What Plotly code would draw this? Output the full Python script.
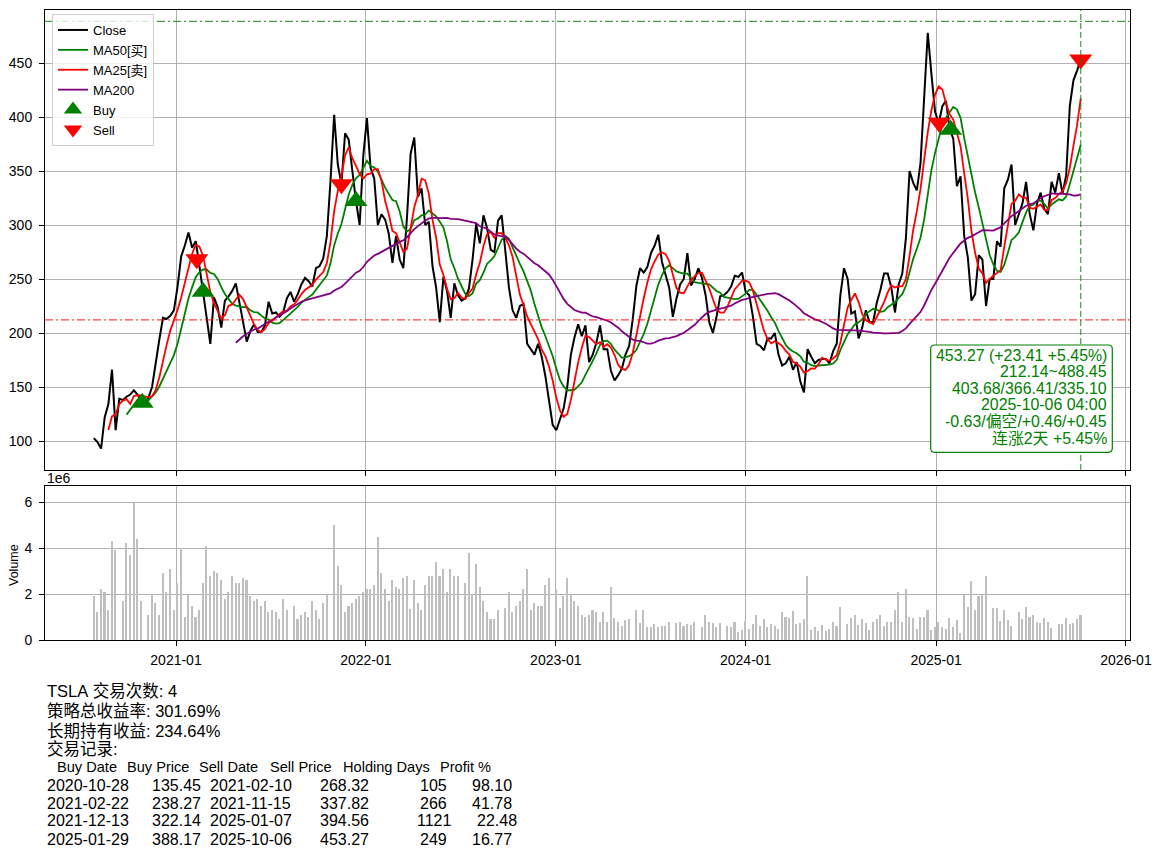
import pandas as pd
import plotly.graph_objects as go

# ---------------- data ----------------
ticker = "TSLA"
week_start = "2020-07-27"   # weekly samples (Mondays)
week_end = "2025-10-06"

close = [
    # 2020
    102.6, 99.0, 93.0, 122.0, 134.0, 166.0, 110.0, 139.0, 138.0, 141.0,
    143.0, 147.0, 143.0, 137.0, 136.0, 140.0, 150.0, 174.0, 194.0, 214.0,
    213.0, 216.0, 221.0,
    # 2021
    243, 271, 281, 293, 279, 285, 262, 238, 215, 190,
    233, 224, 205, 230, 234, 239, 246, 228, 210, 192,
    202, 208, 201, 201, 207, 229, 218, 219, 215, 219,
    232, 238, 229, 236, 245, 251, 248, 243, 260, 262,
    269, 290, 341, 402, 356, 338, 385, 379, 350, 322,
    300, 364,
    # 2022
    399, 353, 343, 300, 310, 305, 292, 265, 290, 268,
    260, 307, 366, 381, 326, 334, 300, 303, 262, 242,
    210, 252, 239, 214, 246, 235, 230, 232, 241, 268,
    301, 283, 309, 297, 277, 275, 304, 309, 276, 242,
    221, 214, 225, 227, 190, 185, 180, 190, 178, 160,
    137, 115,
    # 2023
    110, 120, 130, 150, 180, 196, 208, 197, 207, 173,
    180, 191, 207, 185, 185, 165, 156, 161, 167, 180,
    188, 213, 244, 260, 256, 261, 274, 281, 291, 266,
    253, 242, 215, 232, 245, 250, 274, 244, 250, 260,
    251, 235, 210, 200, 215, 234, 235, 238, 243, 253,
    252, 256,
    # 2024
    238, 235, 215, 190, 188, 184, 195, 195, 200, 180,
    170, 172, 178, 166, 173, 155, 145, 185, 178, 172,
    175, 176, 176, 172, 183, 190, 235, 260, 250, 218,
    220, 195, 205, 221, 210, 210, 228, 240, 255, 255,
    242, 219, 245, 255, 288, 350, 339, 332, 357, 424,
    478, 440,
    # 2025
    405, 394, 410, 415, 389, 380, 336, 345, 290, 270,
    230, 236, 272, 268, 225, 250, 250, 285, 280, 334,
    342, 356, 300, 310, 320, 340, 310, 295, 320, 330,
    315, 310, 340, 330, 348, 329, 346, 410, 434, 443,
    453.27,
]

volume_1e6 = [
    1.9, 1.2, 2.2, 2.1, 1.3, 4.3, 3.9, 0, 1.7, 4.2,
    3.7, 6.0, 4.4, 1.7, 0, 1.1, 2.0, 1.6, 1.1, 2.9,
    2.1, 3.1, 1.3, 2.5, 4.0, 1.0, 2.0, 1.5, 1.0, 1.3,
    2.5, 4.1, 2.8, 3.0, 2.9, 2.6, 1.8, 2.1, 2.8, 2.5,
    2.5, 2.7, 2.6, 1.9, 1.7, 1.8, 1.5, 1.7, 1.2, 1.3,
    1.2, 0.9, 1.8, 1.3, 0, 1.5, 0.9, 1.1, 1.2, 1.0,
    1.7, 1.3, 0.9, 1.6, 2.0, 0, 5.0, 3.2, 2.4, 1.2,
    1.5, 1.6, 1.8, 1.9, 2.1, 2.2, 2.2, 2.4, 4.5, 2.9,
    2.2, 1.7, 2.6, 2.3, 2.2, 2.7, 2.8, 1.35, 2.6, 1.6,
    1.3, 2.4, 2.8, 2.8, 3.4, 2.8, 3.1, 2.1, 3.1, 2.8,
    2.8, 0, 2.5, 3.8, 2.0, 3.3, 2.3, 1.7, 1.2, 0.9,
    0.9, 1.3, 0, 1.4, 2.1, 1.2, 1.5, 1.7, 2.2, 3.1,
    1.3, 1.6, 1.5, 1.5, 2.4, 2.7, 0, 2.2, 1.4, 1.9,
    2.7, 2.0, 1.7, 1.5, 1.1, 1.0, 1.1, 1.3, 1.2, 0.8,
    1.2, 0.8, 2.3, 0.95, 0.8, 0.6, 0.85, 0.9, 0, 1.3,
    0.75, 1.3, 0.55, 0.55, 0.7, 0.55, 0.6, 0.6, 0.8, 0,
    0.75, 0.8, 0.6, 0.7, 0.65, 0.8, 0, 0.57, 1.1, 0.78,
    0.75, 0.55, 0.75, 0, 0.6, 0.55, 0.8, 0.35, 0.45, 0.83,
    0.5, 0.7, 1.1, 0.6, 0.9, 0.55, 0.7, 0.6, 0.5, 1.2,
    1.0, 0.95, 1.25, 0.7, 0.75, 0.9, 2.8, 0.43, 0.55, 0.39,
    0.65, 0.39, 0.48, 0.8, 0.6, 1.45, 0, 0.7, 0.95, 1.1,
    0.65, 0.9, 0.75, 0.43, 0.8, 0.9, 1.1, 0.6, 0.8, 0.8,
    1.3, 2.1, 0.8, 2.2, 1.0, 0.95, 0.5, 1.0, 1.0, 1.3,
    0.43, 0.57, 0.8, 0.55, 0.48, 0.95, 0.57, 0.85, 0.3, 1.95,
    1.45, 2.55, 1.3, 1.9, 2.0, 2.8, 0, 1.4, 1.4, 0.83,
    1.3, 0.85, 0.6, 0, 1.2, 0.9, 1.45, 1.0, 1.1, 0.8,
    0.74, 0.95, 0.8, 0.52, 0, 0.7, 0.7, 0.95, 0.7, 0.74,
    0.9, 1.1,
]

buy_dates = ["2020-10-28", "2021-02-22", "2021-12-13", "2025-01-29"]
buy_prices = [135.45, 238.27, 322.14, 388.17]
sell_dates = ["2021-02-10", "2021-11-15", "2025-01-07", "2025-10-06"]
sell_prices = [268.32, 337.82, 394.56, 453.27]
holding_days = [105, 266, 1121, 249]
profit_pct = [98.10, 41.78, 22.48, 16.77]

n_trades = 4
strategy_return = 301.69
buy_hold_return = 234.64

last_close = 453.27
last_change = 23.41
last_change_pct = 5.45
range_low = 212.14
range_high = 488.45
ma_last = [403.68, 366.41, 335.10]
last_time = "2025-10-06 04:00"
indicator_text = "-0.63/偏空/+0.46/+0.45"
streak_text = "连涨2天 +5.45%"

table_header = ["Buy Date", "Buy Price", "Sell Date", "Sell Price", "Holding Days", "Profit %"]

year_ticks = ["2021-01-01", "2022-01-01", "2023-01-01", "2024-01-01", "2025-01-01", "2026-01-01"]
price_ticks = [100, 150, 200, 250, 300, 350, 400, 450]
volume_ticks = [0, 2, 4, 6]

# ---------------- derived ----------------
dates = pd.date_range(week_start, week_end, freq="W-MON")
s = pd.Series(close, index=dates)
ma25 = s.rolling(5).mean()    # 25 trading days ~ 5 weeks
ma50 = s.rolling(10).mean()   # 50 trading days ~ 10 weeks
ma200 = s.rolling(40).mean()  # 200 trading days ~ 40 weeks

FONT = "Liberation Sans, Arial, Noto Sans CJK SC, sans-serif"
GREEN = "#008000"
RED = "#ff0000"
PURPLE = "#800080"
GRID = "#b0b0b0"

# page is offset by the browser's default 8px body margin
OFF = 8
W, H = 1162 - 2 * OFF, 855 - 2 * OFF
L, R, T, B = 45, 1130, 10, 640  # plot area in page pixels


def px_x(x):
    return (x - L) / (R - L)


def px_y(y):
    return (B - y) / (B - T)


fig = go.Figure()
fig.add_trace(go.Scatter(x=dates, y=close, mode="lines", name="Close",
                         line=dict(color="black", width=2)))
fig.add_trace(go.Scatter(x=dates, y=ma50, mode="lines", name="MA50[买]",
                         line=dict(color=GREEN, width=1.8)))
fig.add_trace(go.Scatter(x=dates, y=ma25, mode="lines", name="MA25[卖]",
                         line=dict(color=RED, width=1.8)))
fig.add_trace(go.Scatter(x=dates, y=ma200, mode="lines", name="MA200",
                         line=dict(color=PURPLE, width=1.8)))
fig.add_trace(go.Scatter(x=pd.to_datetime(buy_dates), y=buy_prices, mode="markers", name="Buy",
                         marker=dict(symbol="triangle-up", size=20, color=GREEN)))
fig.add_trace(go.Scatter(x=pd.to_datetime(sell_dates), y=sell_prices, mode="markers", name="Sell",
                         marker=dict(symbol="triangle-down", size=20, color=RED)))
fig.add_trace(go.Bar(x=dates, y=volume_1e6, xaxis="x2", yaxis="y2", showlegend=False,
                     marker=dict(color="#bfbfbf", line=dict(width=0)),
                     width=3 * 86400000))

x_range = ["2020-04-24 05:00", "2026-01-08 17:00"]
axis_common = dict(showline=True, mirror=True, linecolor="black", linewidth=1,
                   ticks="outside", ticklen=5, tickwidth=1, tickcolor="black",
                   showgrid=True, gridcolor=GRID, gridwidth=1, zeroline=False,
                   tickfont=dict(family=FONT, size=14, color="black"))

main_bottom = px_y(470)
vol_top = px_y(486)

fig.update_layout(
    width=W, height=H,
    margin=dict(l=L - OFF, r=W - (R - OFF), t=T - OFF, b=H - (B - OFF), pad=0),
    paper_bgcolor="white", plot_bgcolor="white",
    font=dict(family=FONT, color="black"),
    showlegend=True,
    bargap=0,
    xaxis=dict(domain=[0, 1], anchor="y", range=x_range, type="date",
               tickvals=year_ticks, showticklabels=False, **axis_common),
    yaxis=dict(domain=[main_bottom, 1], anchor="x", range=[73.15, 499.07],
               tickvals=price_ticks, ticklabelstandoff=4, **axis_common),
    xaxis2=dict(domain=[0, 1], anchor="y2", range=x_range, type="date", matches="x",
                tickvals=year_ticks, tickformat="%Y-%m", ticklabelstandoff=2, **axis_common),
    yaxis2=dict(domain=[0, vol_top], anchor="x2", range=[0, 6.7],
                tickvals=volume_ticks, ticklabelstandoff=4, **axis_common),
    legend=dict(x=px_x(52), y=px_y(14), xanchor="left", yanchor="top",
                bgcolor="rgba(255,255,255,0.8)", bordercolor="#d0d0d0", borderwidth=1,
                font=dict(family=FONT, size=13, color="black"),
                itemwidth=30, tracegroupgap=0),
)

shapes = [
    dict(type="line", xref="x domain", yref="y", x0=0, x1=1, y0=range_high, y1=range_high,
         line=dict(color="rgba(0,128,0,0.75)", width=1.2, dash="8px,3px,2px,3px")),
    dict(type="line", xref="x domain", yref="y", x0=0, x1=1, y0=range_low, y1=range_low,
         line=dict(color="rgba(255,0,0,0.75)", width=1.2, dash="8px,3px,2px,3px")),
    dict(type="line", xref="x", yref="y domain", x0=dates[-1], x1=dates[-1], y0=0, y1=1,
         line=dict(color="rgba(0,128,0,0.75)", width=1.2, dash="6px,3px")),
]

# rounded info box
bx0, bx1, by0, by1 = px_x(930.7), px_x(1112.3), px_y(345), px_y(452.3)
rx, ry = 4 / (R - L), 4 / (B - T)
path = (f"M {bx0+rx},{by0} L {bx1-rx},{by0} Q {bx1},{by0} {bx1},{by0-ry} "
        f"L {bx1},{by1+ry} Q {bx1},{by1} {bx1-rx},{by1} "
        f"L {bx0+rx},{by1} Q {bx0},{by1} {bx0},{by1+ry} "
        f"L {bx0},{by0-ry} Q {bx0},{by0} {bx0+rx},{by0} Z")
shapes.append(dict(type="path", xref="paper", yref="paper", path=path,
                   fillcolor="white", line=dict(color=GREEN, width=1.2), layer="above"))
fig.update_layout(shapes=shapes)

annotations = []
annotations.append(dict(text="1e6", xref="paper", yref="paper", x=0, y=px_y(477.5),
                        xanchor="left", yanchor="middle", showarrow=False,
                        font=dict(family=FONT, size=14, color="black")))
annotations.append(dict(text="Volume", xref="paper", yref="paper", x=px_x(14), y=px_y(565),
                        xanchor="center", yanchor="middle", textangle=-90, showarrow=False,
                        font=dict(family=FONT, size=12.5, color="black")))

info_lines = [
    f"{last_close:.2f} ({last_change:+.2f} {last_change_pct:+.2f}%)",
    f"{range_low:.2f}~{range_high:.2f}",
    "/".join(f"{v:.2f}" for v in ma_last),
    last_time,
    indicator_text,
    streak_text,
]
info_y = [355, 371.7, 388.3, 404.5, 421, 438.3]
for txt, yy in zip(info_lines, info_y):
    annotations.append(dict(text=txt, xref="paper", yref="paper", x=px_x(1108.5), y=px_y(yy),
                            xanchor="right", yanchor="middle", showarrow=False,
                            font=dict(family=FONT, size=15.9, color=GREEN)))


def nb(t):
    return t.replace(" ", "\u00a0")


# summary lines
summary_lines = [
    f"{ticker} 交易次数: {n_trades}",
    f"策略总收益率: {strategy_return:.2f}%",
    f"长期持有收益: {buy_hold_return:.2f}%",
    "交易记录:",
]
summary_y = [690.5, 711, 730.5, 749]
for txt, yy in zip(summary_lines, summary_y):
    annotations.append(dict(text=nb(txt), xref="paper", yref="paper", x=0, y=px_y(yy),
                            xanchor="left", yanchor="middle", showarrow=False,
                            font=dict(family=FONT, size=16.5, color="black")))

# table: fixed-width text as printed, laid out with proportional glyph widths
TABLE_FS = 16
TABLE_PITCH = 16.57   # px per em of the reference rendering
widths = [10, 11, 11, 12, 14, 10]
glyph_em = {"-": 0.333, ".": 0.278, " ": 0.278, "%": 0.889}


def em(t):
    return sum(glyph_em.get(c, 0.556) for c in t)


header_x = [55, 125, 197, 268, 341, 438]
header_y = 767
for h, hx in zip(table_header, header_x):
    annotations.append(dict(text=nb(h), xref="paper", yref="paper", x=px_x(hx), y=px_y(header_y),
                            xanchor="left", yanchor="middle", showarrow=False,
                            font=dict(family=FONT, size=14.6, color="black")))

row_y = [785, 803, 821, 839]
rows = zip(buy_dates, buy_prices, sell_dates, sell_prices, holding_days, profit_pct)
for (bd, bp, sd, sp, hd, pf), yy in zip(rows, row_y):
    fields = [bd, f"{bp:.2f}", sd, f"{sp:.2f}", str(hd), f"{pf:.2f}"]
    pos = 0.0
    for k, (f, w) in enumerate(zip(fields, widths)):
        pad = " " * (w - len(f))
        start = pos + em(pad)
        end = start + em(f)
        pos = end
        if k in (0, 2):
            xx, anchor = L + start * TABLE_PITCH, "left"
        else:
            xx, anchor = L + end * TABLE_PITCH, "right"
        annotations.append(dict(text=f, xref="paper", yref="paper", x=px_x(xx), y=px_y(yy),
                                xanchor=anchor, yanchor="middle", showarrow=False,
                                font=dict(family=FONT, size=TABLE_FS, color="black")))

fig.update_layout(annotations=annotations)

fig.write_html("out.html")
